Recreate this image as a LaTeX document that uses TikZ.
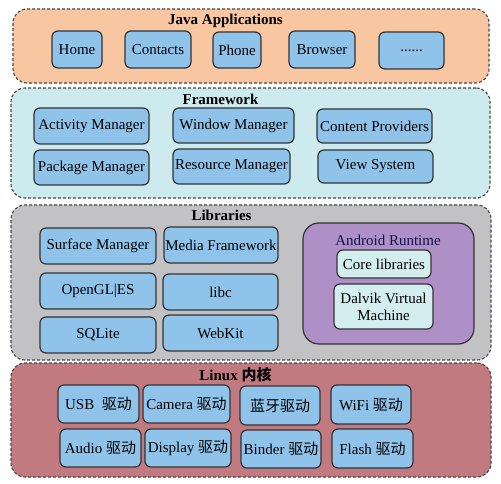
\documentclass[tikz,border=0pt]{standalone}
\usepackage{fontspec}
\setmainfont{Liberation Serif}
\newfontfamily\cjk{Noto Sans CJK SC}
\usetikzlibrary{backgrounds}

\definecolor{appfill}{HTML}{F9C6A2}
\definecolor{fwfill}{HTML}{CDEBEE}
\definecolor{libfill}{HTML}{C2C2C4}
\definecolor{kernfill}{HTML}{C07A80}
\definecolor{unitfill}{HTML}{8FC3EA}
\definecolor{rtfill}{HTML}{AE8FC6}
\definecolor{rtunit}{HTML}{D4EEF0}
\definecolor{edge}{HTML}{333333}

\begin{document}
\begin{tikzpicture}[x=1pt, y=-1pt,
font=\fontsize{15}{17}\selectfont,
layer/.style={
    draw=edge!90, line width=1.1pt, dash pattern=on 3pt off 2pt,
    rounded corners=14pt, inner sep=0pt
},
unit/.style={
    draw=edge, line width=1.2pt, fill=unitfill,
    rounded corners=6pt, inner sep=0pt, align=center
},
title/.style={font=\fontsize{15}{17}\selectfont\bfseries, inner sep=0pt},
]
\useasboundingbox (0,0) rectangle (501,484);

% layers
\node[layer, fill=appfill, minimum width=476pt, minimum height=74pt] (japps) at (251,46) {};
\node[layer, fill=fwfill, minimum width=479pt, minimum height=110pt] (fw) at (250.5,143) {};
\node[layer, fill=libfill, minimum width=480pt, minimum height=155pt] (libs) at (251,282.5) {};
\node[layer, fill=kernfill, minimum width=480pt, minimum height=114pt] (kernel) at (251,420) {};

\node[title] (japps-t) at (225.5,21) {Java Applications};
\node[title] (fw-t) at (220.5,99) {Framework};
\node[title] (libs-t) at (221.5,215) {Libraries};
\node[title] (kernel-t) at (235.5,375) {Linux {\cjk 内核}};

% applications
\node[unit, minimum width=50pt, minimum height=37pt] (home) at (77,49.5) {Home};
\node[unit, minimum width=66pt, minimum height=37pt] (contacts) at (158,49.5) {Contacts};
\node[unit, minimum width=48pt, minimum height=36pt] (phone) at (237,50) {Phone};
\node[unit, minimum width=66pt, minimum height=37pt] (browser) at (322,49.5) {Browser};
\node[unit, minimum width=65pt, minimum height=37pt] (more) at (411.5,50.5) {......};

% framework
\node[unit, minimum width=115pt, minimum height=36pt] (activity) at (91.5,126) {Activity Manager};
\node[unit, minimum width=121pt, minimum height=35pt] (window) at (233.5,125.5) {Window Manager};
\node[unit, minimum width=115pt, minimum height=34pt] (content) at (374.5,126) {Content Providers};
\node[unit, minimum width=115pt, minimum height=35pt] (package) at (91.5,167.5) {Package Manager};
\node[unit, minimum width=117pt, minimum height=35pt] (resource) at (231.5,166.5) {Resource Manager};
\node[unit, minimum width=115pt, minimum height=33pt] (view) at (375.5,166.5) {View System};

% libraries
\node[unit, minimum width=116pt, minimum height=36pt] (surface) at (98,246) {Surface Manager};
\node[unit, minimum width=114pt, minimum height=36pt] (media) at (221,245) {Media Framework};
\node[unit, minimum width=116pt, minimum height=36pt] (opengl) at (98,291) {OpenGL|ES};
\node[unit, minimum width=115pt, minimum height=36pt] (libc) at (220.5,292) {libc};
\node[unit, minimum width=116pt, minimum height=36pt] (sqlite) at (98,335) {SQLite};
\node[unit, minimum width=115pt, minimum height=36pt] (webkit) at (220.5,333) {WebKit};

% android runtime
\node[unit, fill=rtfill, rounded corners=16pt, minimum width=171pt, minimum height=121pt] (runtime) at (388.5,283.5) {};
\node[inner sep=0pt, text=edge!60!blue!60!black] (runtime-t) at (388,240) {Android Runtime};
\node[unit, fill=rtunit, minimum width=94pt, minimum height=28pt] (core) at (384,264) {Core libraries};
\node[unit, fill=rtunit, minimum width=99pt, minimum height=45pt] (dalvik) at (383.5,306.5) {Dalvik Virtual\\Machine};

% linux drivers
\node[unit, minimum width=81pt, minimum height=38pt] (usb) at (98.5,404) {USB\ \ {\cjk 驱动}};
\node[unit, minimum width=87pt, minimum height=38pt] (camera) at (186.5,404) {Camera {\cjk 驱动}};
\node[unit, minimum width=80pt, minimum height=39pt] (bt) at (280,405.5) {\cjk 蓝牙驱动};
\node[unit, minimum width=80pt, minimum height=39pt] (wifi) at (371,404.5) {WiFi {\cjk 驱动}};
\node[unit, minimum width=81pt, minimum height=38pt] (audio) at (100.5,448) {Audio {\cjk 驱动}};
\node[unit, minimum width=86pt, minimum height=38pt] (display) at (188,448) {Display {\cjk 驱动}};
\node[unit, minimum width=80pt, minimum height=38pt] (binder) at (281,449) {Binder {\cjk 驱动}};
\node[unit, minimum width=81pt, minimum height=39pt] (flash) at (372.5,448.5) {Flash {\cjk 驱动}};

\end{tikzpicture}
\end{document}
